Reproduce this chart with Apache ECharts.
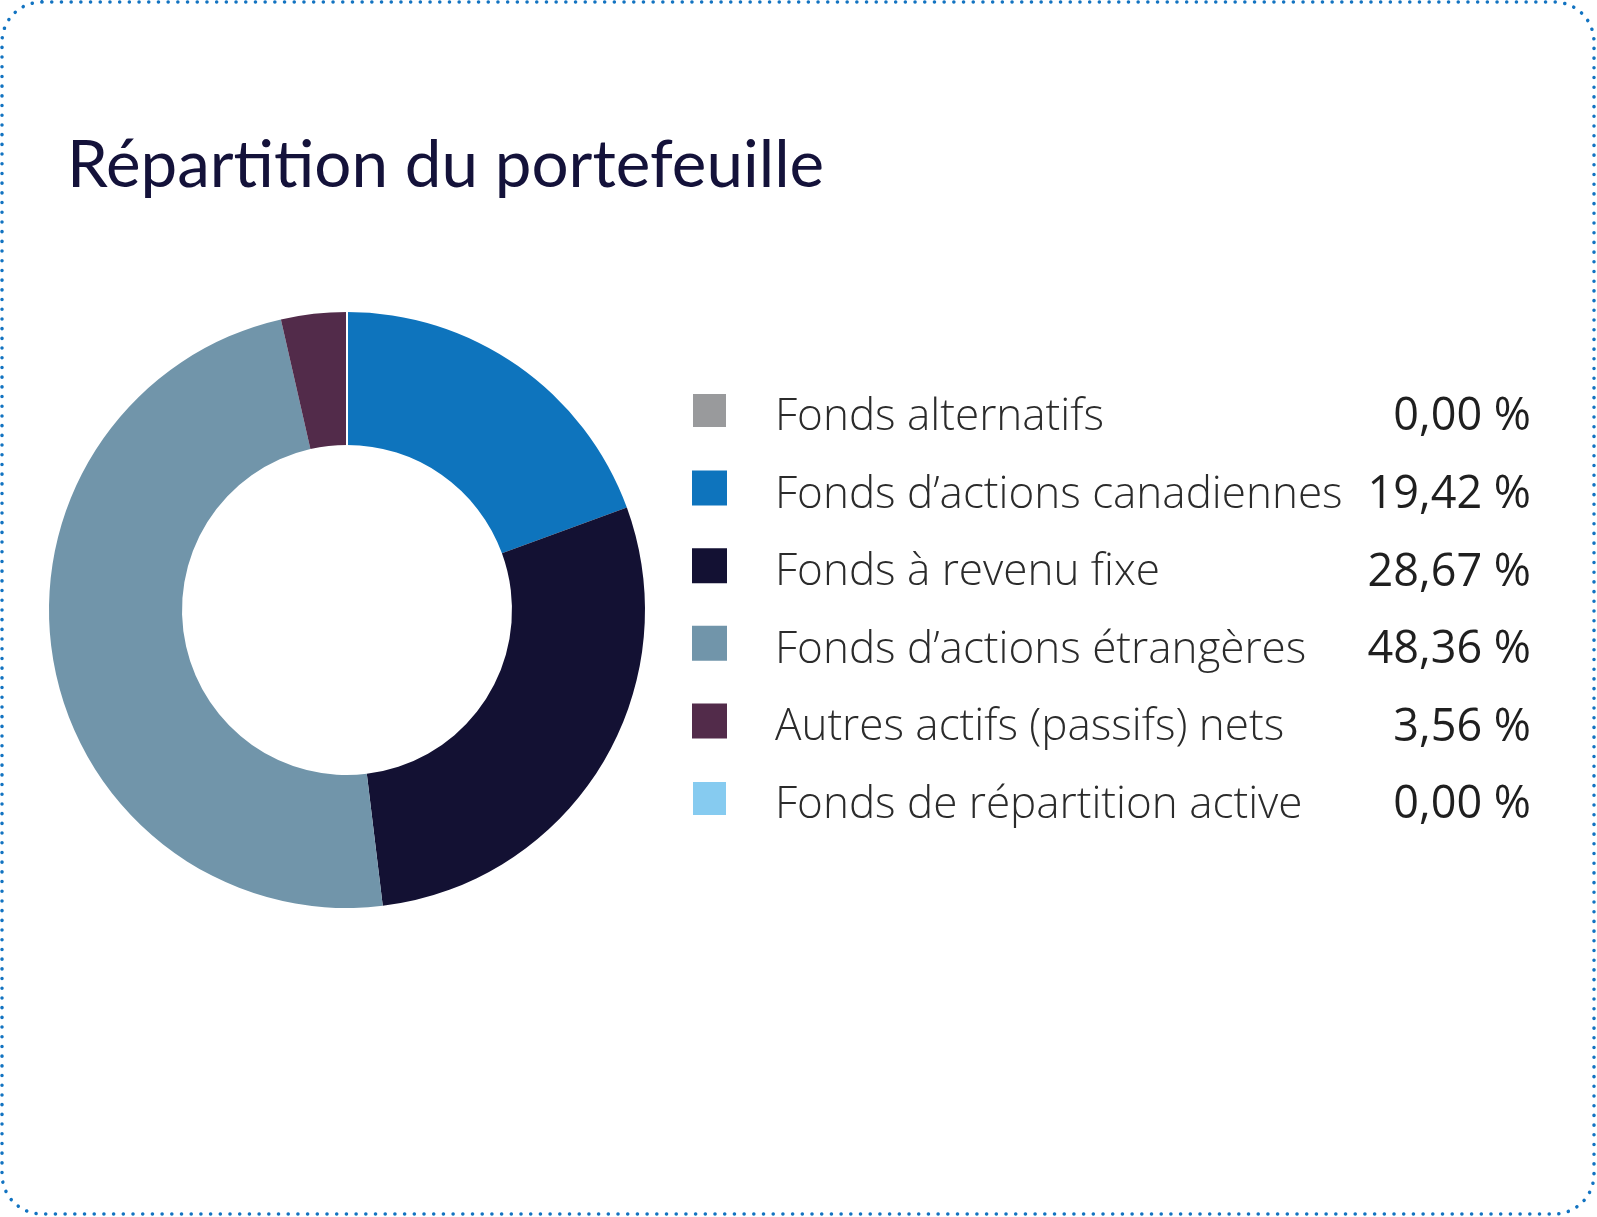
<!DOCTYPE html>
<html>
<head>
<meta charset="utf-8">
<script src="https://cdn.jsdelivr.net/npm/echarts@6/dist/echarts.min.js"></script>
<style>
  html, body { margin: 0; padding: 0; background: #fff; }
  #chart { width: 1597px; height: 1217px; }
</style>
</head>
<body>
<div id="chart"></div>
<script>
// données du portefeuille
var categories = [
    'Fonds alternatifs',
    'Fonds d\u2019actions canadiennes',
    'Fonds \u00e0 revenu fixe',
    'Fonds d\u2019actions \u00e9trang\u00e8res',
    'Autres actifs (passifs) nets',
    'Fonds de r\u00e9partition active'
];
var values = [0.00, 19.42, 28.67, 48.36, 3.56, 0.00];
var colors = ['#999a9c', '#0e74bd', '#131133', '#7195aa', '#522b4a', '#86cbf0'];

function pct(v) {
    return v.toFixed(2).replace('.', ',') + ' %';
}

var chart = echarts.init(document.getElementById('chart'));

var option = {
    animation: false,
    color: colors,
    graphic: [
        {
            type: 'rect',
            z: -10,
            shape: { x: 2, y: 2, width: 1592, height: 1212, r: 40 },
            style: {
                fill: '#fff',
                stroke: '#1273c1',
                lineWidth: 3.5,
                lineDash: [0.1, 9.6],
                lineCap: 'round'
            }
        }
    ],
    title: {
        text: 'R\u00e9partition du portefeuille',
        left: 62,
        top: 128,
        textStyle: {
            fontFamily: 'Lato',
            fontWeight: 400,
            fontSize: 65.5,
            color: '#14123a'
        }
    },
    legend: {
        orient: 'vertical',
        left: 686,
        top: 376,
        icon: 'rect',
        itemWidth: 35,
        itemHeight: 35,
        itemGap: 18.6,
        selectedMode: false,
        data: categories,
        formatter: function (name) {
            var i = categories.indexOf(name);
            return '{n|' + name + '}{v|' + pct(values[i]) + '}';
        },
        textStyle: {
            rich: {
                n: {
                    fontFamily: 'Open Sans',
                    fontWeight: 300,
                    fontSize: 44,
                    color: '#2b2b2b',
                    width: 576,
                    lineHeight: 44,
                    padding: [14, 0, 0, 43]
                },
                v: {
                    fontFamily: 'Open Sans',
                    fontWeight: 400,
                    fontSize: 45,
                    color: '#1f1f1f',
                    width: 180,
                    lineHeight: 44,
                    padding: [14, 0, 0, 0],
                    align: 'right'
                }
            }
        }
    },
    series: [
        {
            type: 'pie',
            center: [347, 610],
            radius: [165, 298],
            startAngle: 90,
            clockwise: true,
            label: { show: false },
            labelLine: { show: false },
            emphasis: { disabled: true },
            data: categories.map(function (c, i) {
                var item = { name: c, value: values[i] };
                // les tranches nulles laissent un mince trait blanc
                if (values[i] === 0) {
                    item.itemStyle = { borderColor: '#fff', borderWidth: 2 };
                }
                return item;
            })
        }
    ]
};

chart.setOption(option);
</script>
</body>
</html>
